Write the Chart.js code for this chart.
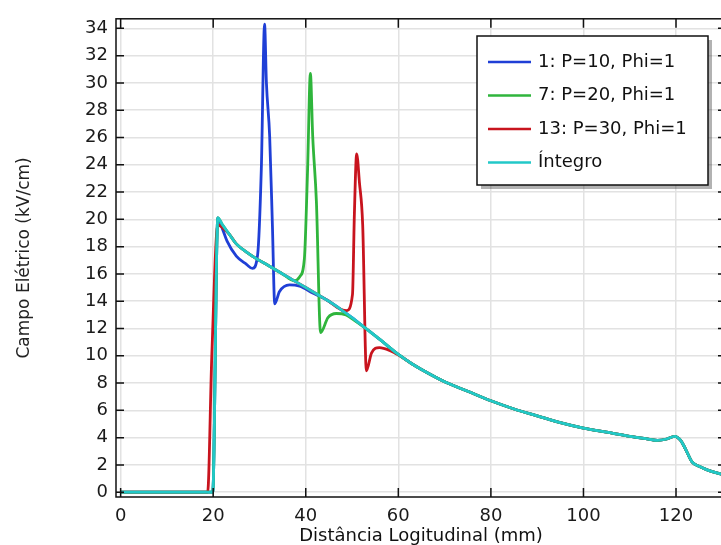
<!DOCTYPE html>
<html lang="pt">
<head>
  <meta charset="UTF-8">
  <title>Campo Elétrico x Distância Longitudinal</title>
  <script src="https://cdn.jsdelivr.net/npm/chart.js"></script>
  <style>
    html, body {
      margin: 0;
      padding: 0;
      background: #fff;
      overflow: hidden;
    }
    #chart {
      display: block;
    }
  </style>
</head>
<body>
  <!-- a bit wider than the window: the right axis falls just outside, as in the original -->
  <canvas id="chart" width="726" height="545"></canvas>

  <script>
    // tick labels
    const xTicks = [0, 20, 40, 60, 80, 100, 120];
    const yTicks = [0, 2, 4, 6, 8, 10, 12, 14, 16, 18, 20, 22, 24, 26, 28, 30, 32, 34];

    // Íntegro (reference curve)
    const integroX = [0, 19.9, 21.0, 22, 23.5, 25, 27.2, 29.4, 32, 35, 38, 40, 42, 45, 48, 50, 53, 56, 60, 63,
                      65, 70, 75, 80, 85, 90, 95, 100, 105, 110, 114, 116, 118, 119.7, 121, 122, 123.5, 125, 127, 130, 131];
    const integroY = [0, 0, 20.1, 19.6, 18.9, 18.2, 17.6, 17.1, 16.6, 16.0, 15.4, 15.0, 14.6, 14.0, 13.3, 12.8, 12.0, 11.2, 10.1, 9.4,
                      9.0, 8.1, 7.4, 6.7, 6.1, 5.6, 5.1, 4.7, 4.4, 4.1, 3.9, 3.8, 3.9, 4.1, 3.8, 3.2, 2.2, 1.9, 1.6, 1.3, 1.2];

    // 1: P=10 - part that leaves the Íntegro curve
    const p10X = [22, 23, 25, 27.2, 28.5, 29.6, 30.4, 31.1, 31.5, 32.2, 32.8, 33.3, 34.3, 36.5, 38.7, 41.5, 44];
    const p10Y = [19.3, 18.4, 17.3, 16.7, 16.4, 17.4, 23.7, 34.3, 30.0, 26.1, 19.5, 13.8, 14.7, 15.2, 15.1, 14.6, 14.2];

    // 7: P=20
    const p20X = [37.5, 38.7, 39.7, 40.4, 41.0, 41.5, 42.3, 43.2, 44.8, 46.6, 48.7, 50.5];
    const p20Y = [15.5, 15.8, 17.1, 23.7, 30.7, 26.1, 21.3, 11.7, 12.8, 13.1, 13.0, 12.6];

    // 13: P=30 (earlier rise + peak)
    const p30RiseX = [18.8, 19.7, 21.0, 22, 23.5];
    const p30RiseY = [0, 10, 19.6, 19.4, 18.9];
    const p30X = [47, 48.8, 50.1, 50.5, 51.0, 51.6, 52.3, 53.1, 54.2, 55.9, 58.1, 60.3];
    const p30Y = [13.5, 13.3, 14.5, 20.3, 24.8, 22.7, 19.6, 8.9, 10.2, 10.6, 10.4, 10.0];

    function toPoints(xs, ys) {
      return xs.map((x, i) => ({ x: x, y: ys[i] }));
    }

    // replace the base curve by a segment over the segment's x range
    function splice(base, xs, ys) {
      const lo = xs[0], hi = xs[xs.length - 1];
      const out = base.filter(p => p.x < lo || p.x > hi).concat(toPoints(xs, ys));
      return out.sort((a, b) => a.x - b.x);
    }

    const integro = toPoints(integroX, integroY);
    const serie1 = splice(integro, p10X, p10Y);
    const serie7 = splice(integro, p20X, p20Y);
    const serie13 = splice(splice(integro, p30RiseX, p30RiseY), p30X, p30Y);

    const legendItems = [
      { label: '1: P=10, Phi=1', color: '#1f3fd6' },
      { label: '7: P=20, Phi=1', color: '#2fb53c' },
      { label: '13: P=30, Phi=1', color: '#c8141e' },
      { label: 'Íntegro', color: '#22c8c8' }
    ];

    Chart.defaults.font.family = "'DejaVu Sans', sans-serif";
    Chart.defaults.color = '#1a1a1a';

    // frame, inward tick marks and the boxed legend
    const framePlugin = {
      id: 'frame',
      afterDraw(chart) {
        const ctx = chart.ctx;
        const a = chart.chartArea;
        const xs = chart.scales.x, ys = chart.scales.y;
        ctx.save();
        ctx.strokeStyle = '#111';
        ctx.lineWidth = 1.5;
        ctx.strokeRect(a.left, a.top, a.right - a.left, a.bottom - a.top);

        ctx.beginPath();
        xTicks.forEach(v => {
          const px = xs.getPixelForValue(v);
          ctx.moveTo(px, a.bottom); ctx.lineTo(px, a.bottom - 9);
          ctx.moveTo(px, a.top); ctx.lineTo(px, a.top + 9);
        });
        yTicks.forEach(v => {
          const py = ys.getPixelForValue(v);
          ctx.moveTo(a.left, py); ctx.lineTo(a.left + 8, py);
          ctx.moveTo(a.right, py); ctx.lineTo(a.right - 8, py);
        });
        ctx.stroke();

        // legend box
        const bx = 477, by = 36, bw = 231, bh = 149;
        ctx.fillStyle = 'rgba(0,0,0,0.3)';
        ctx.fillRect(bx + 4, by + 4, bw, bh);
        ctx.fillStyle = '#fff';
        ctx.fillRect(bx, by, bw, bh);
        ctx.strokeStyle = '#111';
        ctx.lineWidth = 1.5;
        ctx.strokeRect(bx, by, bw, bh);

        ctx.font = "18px 'DejaVu Sans', sans-serif";
        ctx.textBaseline = 'middle';
        ctx.textAlign = 'left';
        legendItems.forEach((it, i) => {
          const y = 62 + i * 33.5;
          ctx.strokeStyle = it.color;
          ctx.lineWidth = 2.5;
          ctx.beginPath();
          ctx.moveTo(488, y); ctx.lineTo(531, y);
          ctx.stroke();
          ctx.fillStyle = '#111';
          ctx.fillText(it.label, 538, y);
        });
        ctx.restore();
      }
    };

    const line = (label, data, color, order) => ({
      label: label,
      data: data,
      borderColor: color,
      backgroundColor: color,
      borderWidth: 2.8,
      pointRadius: 0,
      cubicInterpolationMode: 'monotone',
      order: order
    });

    new Chart(document.getElementById('chart').getContext('2d'), {
      type: 'line',
      data: {
        datasets: [
          line('1: P=10, Phi=1', serie1, '#1f3fd6', 3),
          line('7: P=20, Phi=1', serie7, '#2fb53c', 1),
          line('13: P=30, Phi=1', serie13, '#c8141e', 2),
          line('Íntegro', integro, '#22c8c8', 0)
        ]
      },
      options: {
        responsive: false,
        animation: false,
        layout: { padding: { top: 15, right: 0, left: 0, bottom: 0 } },
        plugins: {
          legend: { display: false },
          tooltip: { enabled: false }
        },
        scales: {
          x: {
            type: 'linear',
            min: -1,
            max: 130.8,
            afterBuildTicks: s => { s.ticks = xTicks.map(v => ({ value: v })); },
            afterFit: s => { s.height = 48; },
            grid: { color: '#e2e2e2', lineWidth: 1.5, drawTicks: false },
            border: { display: false },
            ticks: { font: { size: 18 }, padding: 9, maxRotation: 0 },
            title: {
              display: true,
              text: 'Distância Logitudinal (mm)',
              font: { size: 18, lineHeight: 1.0 },
              color: '#111',
              padding: { top: 0, bottom: 0 }
            }
          },
          y: {
            type: 'linear',
            min: -0.35,
            max: 34.7,
            afterBuildTicks: s => { s.ticks = yTicks.map(v => ({ value: v })); },
            afterFit: s => { s.width = 116; },
            grid: { color: '#e2e2e2', lineWidth: 1.5, drawTicks: false },
            border: { display: false },
            ticks: { font: { size: 18 }, padding: 8 },
            title: {
              display: true,
              text: 'Campo Elétrico (kV/cm)',
              font: { size: 17 },
              color: '#222',
              padding: { top: 14, bottom: 0 }
            }
          }
        }
      },
      plugins: [framePlugin]
    });
  </script>
</body>
</html>
